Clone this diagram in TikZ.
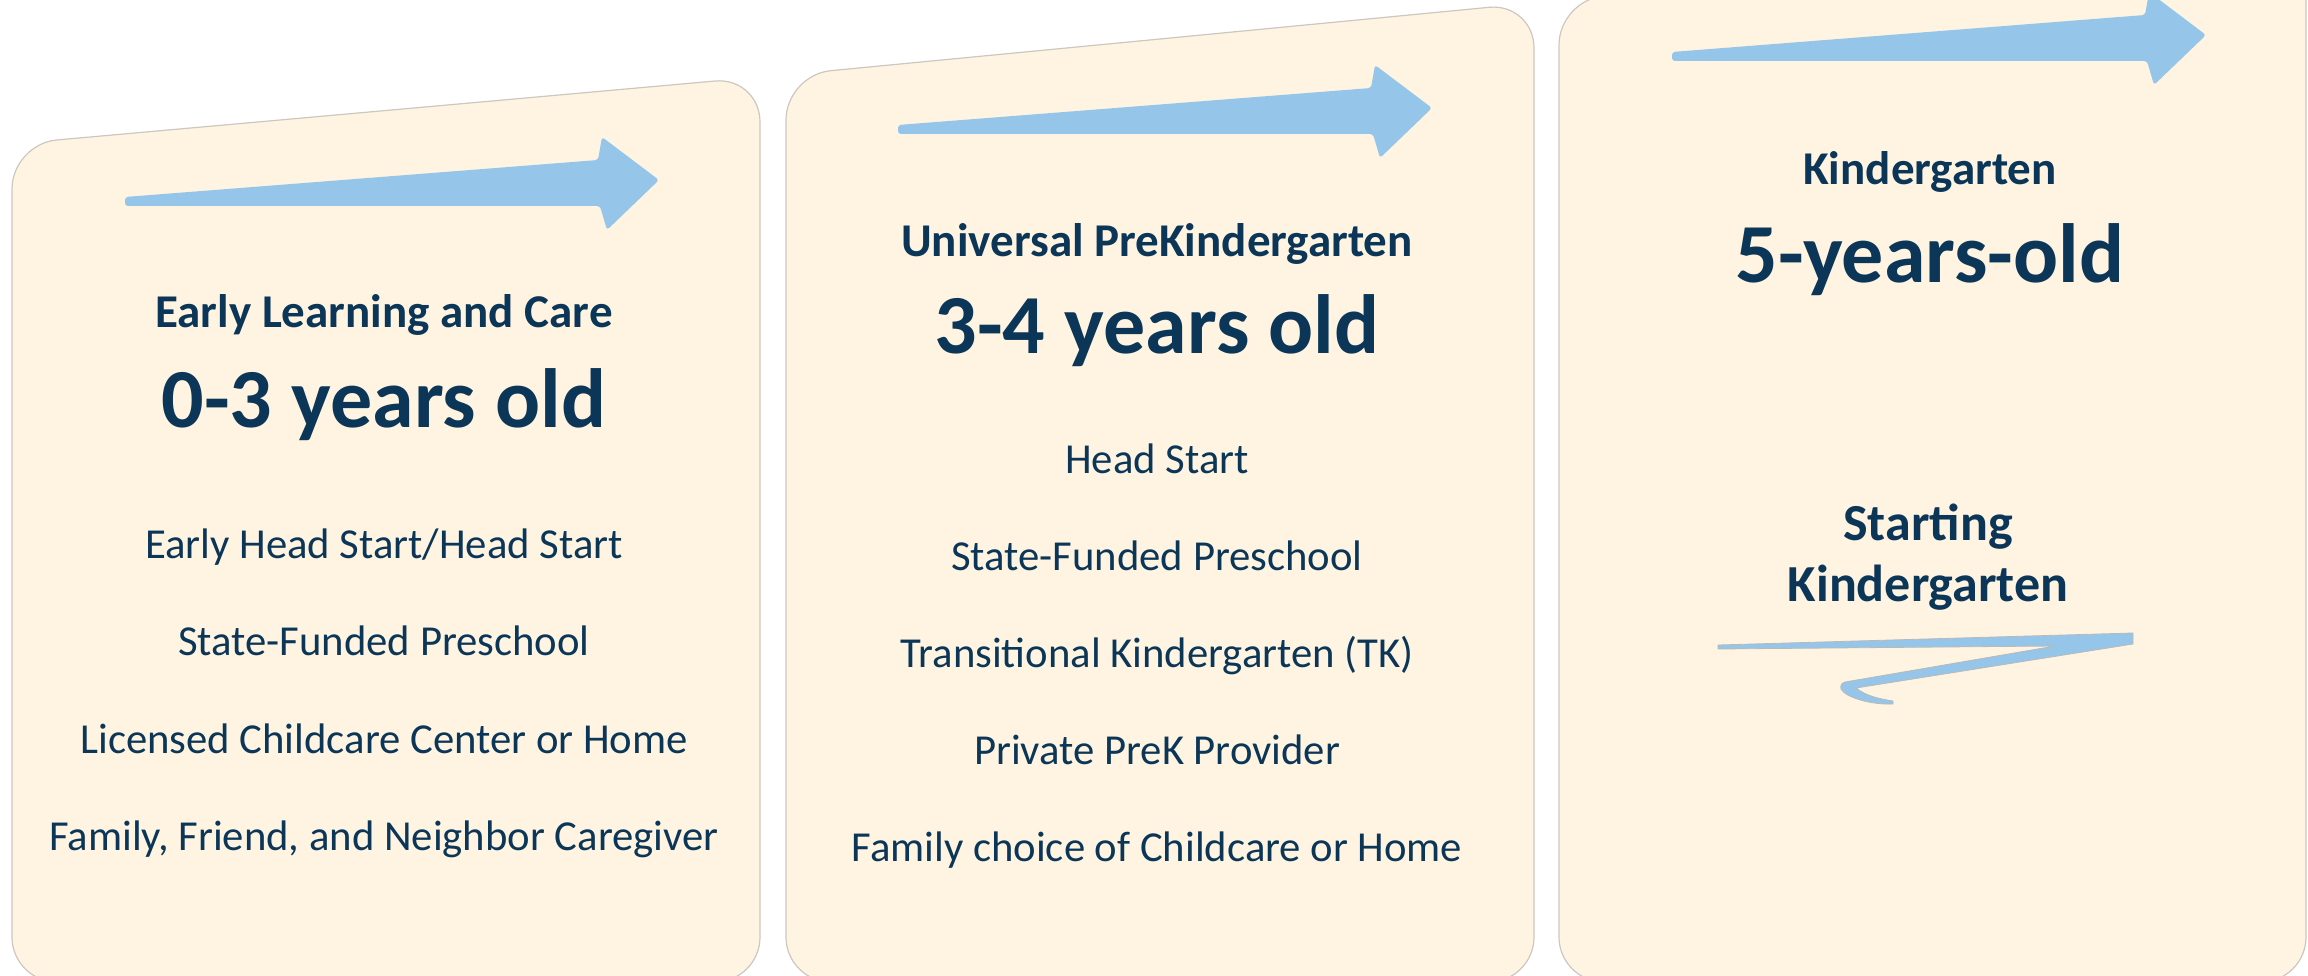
\documentclass[tikz,border=0pt]{standalone}
\usepackage{fontspec}
\setmainfont{Carlito}
\definecolor{navy}{HTML}{0B3657}
\definecolor{cream}{HTML}{FEF4E1}
\definecolor{arrowblue}{HTML}{95C6E9}
\definecolor{edgegray}{HTML}{CCC8C0}
\tikzset{
  panel/.style={fill=cream, draw=edgegray, line width=1.2pt, rounded corners=45pt},
  headtxt/.style={font=\bfseries\fontsize{47}{56}\selectfont, text=navy, anchor=base, inner sep=0pt},
  bigtxt/.style={font=\bfseries\fontsize{84}{100}\selectfont, text=navy, anchor=base, inner sep=0pt},
  itemtxt/.style={font=\fontsize{42.7}{50}\selectfont, text=navy, anchor=base, inner sep=0pt},
  starttxt/.style={font=\bfseries\fontsize{52}{62}\selectfont, text=navy, anchor=base, inner sep=0pt},
  bigarrow/.pic={\fill[arrowblue, rounded corners=3pt] (0,0) -- (0,-9) -- (473,-46) -- (477,-69) -- (534,-26) -- (482,24) -- (475,0) -- cycle;}
}
\begin{document}
\begin{tikzpicture}[x=1pt,y=-1pt]
\useasboundingbox (0,0) rectangle (2308,976);
\clip (0,0) rectangle (2308,976);
\fill[white] (0,0) rectangle (2308,976);
% panels
\draw[panel] (12,982) -- (12,144) -- (760,77) -- (760,982) -- cycle;
\draw[panel] (786,982) -- (786,75) -- (1534,3) -- (1534,982) -- cycle;
\draw[panel] (1559,982) -- (1559,0) -- (2306,-70) -- (2306,982) -- cycle;
% arrows
\pic at (125,206) {bigarrow};
\pic at (898,134) {bigarrow};
\pic at (1672,61) {bigarrow};
% panel 1
\node[headtxt] (h1) at (384,327) {Early Learning and Care};
\node[bigtxt] (b1) at (384,427) {0-3 years old};
\node[itemtxt] (a1) at (384,558) {Early Head Start/Head Start};
\node[itemtxt] (a2) at (384,655) {State-Funded Preschool};
\node[itemtxt] (a3) at (384,753) {Licensed Childcare Center or Home};
\node[itemtxt] (a4) at (384,850) {Family, Friend, and Neighbor Caregiver};
% panel 2
\node[headtxt] (h2) at (1157,257) {Universal PreKindergarten};
\node[bigtxt] (b2) at (1157,353) {3-4 years old};
\node[itemtxt] (c1) at (1157,473) {Head Start};
\node[itemtxt] (c2) at (1157,570) {State-Funded Preschool};
\node[itemtxt] (c3) at (1157,667) {Transitional Kindergarten (TK)};
\node[itemtxt] (c4) at (1157,764) {Private PreK Provider};
\node[itemtxt] (c5) at (1157,861) {Family choice of Childcare or Home};
% panel 3
\node[headtxt] (h3) at (1930,185) {Kindergarten};
\node[bigtxt] (b3) at (1930,283) {5-years-old};
\node[starttxt] (s1) at (1928,540) {Starting};
\node[starttxt] (s2) at (1928,601) {Kindergarten};
% swoosh
\filldraw[fill=arrowblue, draw=gray!55, line width=0.8pt] (1718,645) -- (2133,633) -- (2133,644) -- (1856,688)
  .. controls (1866,696) and (1880,699) .. (1893,701) -- (1893,704)
  .. controls (1870,705) and (1845,697) .. (1841,689)
  .. controls (1840,685) and (1842,683) .. (1845,682) -- (2055,646) -- (1718,649) -- cycle;
\end{tikzpicture}
\end{document}
